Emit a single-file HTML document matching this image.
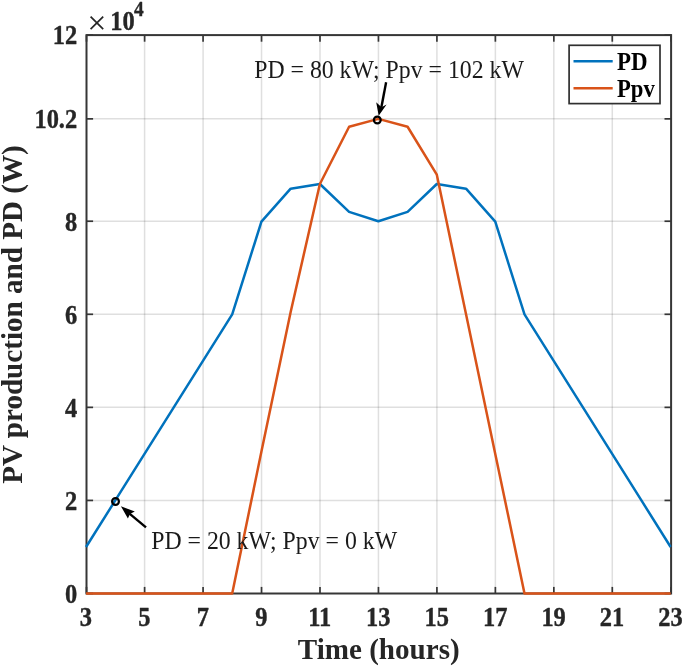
<!DOCTYPE html>
<html><head><meta charset="utf-8"><title>PV production and PD</title>
<style>
html,body{margin:0;padding:0;background:#fff;}
body{width:685px;height:667px;overflow:hidden;font-family:"Liberation Serif",serif;}
svg{display:block;will-change:transform;font-family:"Liberation Serif",serif;}
.g{stroke:#262626;stroke-opacity:0.15;stroke-width:1.5;}
.t{stroke:#363636;stroke-width:1.7;}

.tk{font-size:27.0px;font-weight:bold;fill:#262626;stroke:#262626;stroke-width:0.4px;stroke-linejoin:round;}
.lb{font-size:29.1px;font-weight:bold;fill:#262626;}
.an{font-size:24.2px;fill:#1a1a1a;}
.lg{font-size:24.3px;font-weight:bold;fill:#000;}
</style></head><body>
<svg width="685" height="667" viewBox="0 0 685 667">
<rect width="685" height="667" fill="#fff"/>
<line x1="144.61" y1="35.1" x2="144.61" y2="593.5" class="g"/>
<line x1="203.07" y1="35.1" x2="203.07" y2="593.5" class="g"/>
<line x1="261.53" y1="35.1" x2="261.53" y2="593.5" class="g"/>
<line x1="319.99" y1="35.1" x2="319.99" y2="593.5" class="g"/>
<line x1="378.45" y1="35.1" x2="378.45" y2="593.5" class="g"/>
<line x1="436.91" y1="35.1" x2="436.91" y2="593.5" class="g"/>
<line x1="495.37" y1="35.1" x2="495.37" y2="593.5" class="g"/>
<line x1="553.83" y1="35.1" x2="553.83" y2="593.5" class="g"/>
<line x1="612.29" y1="35.1" x2="612.29" y2="593.5" class="g"/>
<line x1="86.5" y1="500.43" x2="671.1" y2="500.43" class="g"/>
<line x1="86.5" y1="407.37" x2="671.1" y2="407.37" class="g"/>
<line x1="86.5" y1="314.30" x2="671.1" y2="314.30" class="g"/>
<line x1="86.5" y1="221.23" x2="671.1" y2="221.23" class="g"/>
<line x1="86.5" y1="118.86" x2="671.1" y2="118.86" class="g"/>

<line x1="86.50" y1="593.5" x2="86.50" y2="586.9" class="t"/><line x1="86.50" y1="35.1" x2="86.50" y2="41.7" class="t"/>
<line x1="144.61" y1="593.5" x2="144.61" y2="586.9" class="t"/><line x1="144.61" y1="35.1" x2="144.61" y2="41.7" class="t"/>
<line x1="203.07" y1="593.5" x2="203.07" y2="586.9" class="t"/><line x1="203.07" y1="35.1" x2="203.07" y2="41.7" class="t"/>
<line x1="261.53" y1="593.5" x2="261.53" y2="586.9" class="t"/><line x1="261.53" y1="35.1" x2="261.53" y2="41.7" class="t"/>
<line x1="319.99" y1="593.5" x2="319.99" y2="586.9" class="t"/><line x1="319.99" y1="35.1" x2="319.99" y2="41.7" class="t"/>
<line x1="378.45" y1="593.5" x2="378.45" y2="586.9" class="t"/><line x1="378.45" y1="35.1" x2="378.45" y2="41.7" class="t"/>
<line x1="436.91" y1="593.5" x2="436.91" y2="586.9" class="t"/><line x1="436.91" y1="35.1" x2="436.91" y2="41.7" class="t"/>
<line x1="495.37" y1="593.5" x2="495.37" y2="586.9" class="t"/><line x1="495.37" y1="35.1" x2="495.37" y2="41.7" class="t"/>
<line x1="553.83" y1="593.5" x2="553.83" y2="586.9" class="t"/><line x1="553.83" y1="35.1" x2="553.83" y2="41.7" class="t"/>
<line x1="612.29" y1="593.5" x2="612.29" y2="586.9" class="t"/><line x1="612.29" y1="35.1" x2="612.29" y2="41.7" class="t"/>
<line x1="671.10" y1="593.5" x2="671.10" y2="586.9" class="t"/><line x1="671.10" y1="35.1" x2="671.10" y2="41.7" class="t"/>
<line x1="86.5" y1="593.50" x2="93.1" y2="593.50" class="t"/><line x1="671.1" y1="593.50" x2="664.5" y2="593.50" class="t"/>
<line x1="86.5" y1="500.43" x2="93.1" y2="500.43" class="t"/><line x1="671.1" y1="500.43" x2="664.5" y2="500.43" class="t"/>
<line x1="86.5" y1="407.37" x2="93.1" y2="407.37" class="t"/><line x1="671.1" y1="407.37" x2="664.5" y2="407.37" class="t"/>
<line x1="86.5" y1="314.30" x2="93.1" y2="314.30" class="t"/><line x1="671.1" y1="314.30" x2="664.5" y2="314.30" class="t"/>
<line x1="86.5" y1="221.23" x2="93.1" y2="221.23" class="t"/><line x1="671.1" y1="221.23" x2="664.5" y2="221.23" class="t"/>
<line x1="86.5" y1="118.86" x2="93.1" y2="118.86" class="t"/><line x1="671.1" y1="118.86" x2="664.5" y2="118.86" class="t"/>
<line x1="86.5" y1="35.10" x2="93.1" y2="35.10" class="t"/><line x1="671.1" y1="35.10" x2="664.5" y2="35.10" class="t"/>

<rect x="86.5" y="35.1" width="584.6" height="558.4" fill="none" stroke="#363636" stroke-width="2.0"/>
<polyline points="86.05,546.97 115.28,500.43 144.51,453.90 173.74,407.37 202.97,360.83 232.20,314.30 261.43,221.70 290.66,188.66 319.89,184.01 349.12,211.93 378.35,221.23 407.58,211.93 436.81,184.01 466.04,188.66 495.27,221.70 524.50,314.30 553.73,360.83 582.96,407.37 612.19,453.90 641.42,500.43 670.65,546.97" fill="none" stroke="#0072bd" stroke-width="2.5" stroke-linejoin="round"/>
<polyline points="86.05,593.50 115.28,593.50 144.51,593.50 173.74,593.50 202.97,593.50 232.20,593.50 261.43,451.57 290.66,311.97 319.89,184.01 349.12,126.77 378.35,118.86 407.58,126.77 436.81,174.70 466.04,314.30 495.27,453.90 524.50,593.50 553.73,593.50 582.96,593.50 612.19,593.50 641.42,593.50 670.65,593.50" fill="none" stroke="#d95319" stroke-width="2.5" stroke-linejoin="round"/>
<text transform="translate(85.90,626.20) scale(0.905,1)" text-anchor="middle" class="tk" >3</text>
<text transform="translate(144.36,626.20) scale(0.905,1)" text-anchor="middle" class="tk" >5</text>
<text transform="translate(202.82,626.20) scale(0.905,1)" text-anchor="middle" class="tk" >7</text>
<text transform="translate(261.28,626.20) scale(0.905,1)" text-anchor="middle" class="tk" >9</text>
<text transform="translate(319.74,626.20) scale(0.905,1)" text-anchor="middle" class="tk" >11</text>
<text transform="translate(378.20,626.20) scale(0.905,1)" text-anchor="middle" class="tk" >13</text>
<text transform="translate(436.66,626.20) scale(0.905,1)" text-anchor="middle" class="tk" >15</text>
<text transform="translate(495.12,626.20) scale(0.905,1)" text-anchor="middle" class="tk" >17</text>
<text transform="translate(553.58,626.20) scale(0.905,1)" text-anchor="middle" class="tk" >19</text>
<text transform="translate(612.04,626.20) scale(0.905,1)" text-anchor="middle" class="tk" >21</text>
<text transform="translate(670.50,626.20) scale(0.905,1)" text-anchor="middle" class="tk" >23</text>

<text transform="translate(77.20,602.80) scale(0.905,1)" text-anchor="end" class="tk" >0</text>
<text transform="translate(77.20,509.73) scale(0.905,1)" text-anchor="end" class="tk" >2</text>
<text transform="translate(77.20,416.67) scale(0.905,1)" text-anchor="end" class="tk" >4</text>
<text transform="translate(77.20,323.60) scale(0.905,1)" text-anchor="end" class="tk" >6</text>
<text transform="translate(77.20,230.53) scale(0.905,1)" text-anchor="end" class="tk" >8</text>
<text transform="translate(77.20,128.16) scale(0.905,1)" text-anchor="end" class="tk" >10.2</text>
<text transform="translate(77.20,44.40) scale(0.905,1)" text-anchor="end" class="tk" >12</text>

<path d="M90.6 16.6 L103.2 29.2 M103.2 16.6 L90.6 29.2" stroke="#262626" stroke-width="1.7" fill="none"/>
<text transform="translate(110.20,30.20) scale(0.905,1)" text-anchor="start" class="tk" >10</text>

<text transform="translate(134.00,16.30) scale(0.905,1)" text-anchor="start" class="tk" style="font-size:21.3px">4</text>

<text transform="translate(378.70,658.80) scale(1.0,1)" text-anchor="middle" class="lb" >Time (hours)</text>

<text transform="translate(22.4,314.5) rotate(-90)" text-anchor="middle" class="lb">PV production and PD (W)</text>
<!-- annotations -->
<text transform="translate(254.20,77.50) scale(0.983,1)" text-anchor="start" class="an" >PD = 80 kW; Ppv = 102 kW</text>

<text transform="translate(151.20,549.30) scale(0.983,1)" text-anchor="start" class="an" >PD = 20 kW; Ppv = 0 kW</text>

<circle cx="377.3" cy="120.0" r="3.4" fill="none" stroke="#000" stroke-width="2.2"/>
<circle cx="115.5" cy="501.5" r="3.4" fill="none" stroke="#000" stroke-width="2.2"/>
<line x1="386.1" y1="82.3" x2="381.3" y2="107.7" stroke="#000" stroke-width="2.4"/>
<polygon points="378.7,115.7 376.2,102.3 381.5,107.2 386.6,104.6" fill="#000"/>
<line x1="146" y1="527.3" x2="129.5" y2="513.6" stroke="#000" stroke-width="2.4"/>
<polygon points="120.9,506.2 134.8,511.6 129.9,513.9 127.9,518.5" fill="#000"/>
<!-- legend -->
<rect x="569.1" y="45.3" width="90.9" height="58.3" fill="#fff" stroke="#303030" stroke-width="1.7"/>
<line x1="573.5" y1="61.2" x2="612.7" y2="61.2" stroke="#0072bd" stroke-width="2.5"/>
<line x1="573.5" y1="88.2" x2="612.7" y2="88.2" stroke="#d95319" stroke-width="2.5"/>
<text transform="translate(617.00,69.90) scale(0.945,1)" text-anchor="start" class="lg" >PD</text>

<text transform="translate(617.00,97.00) scale(0.935,1)" text-anchor="start" class="lg" >Ppv</text>

</svg>
</body></html>
